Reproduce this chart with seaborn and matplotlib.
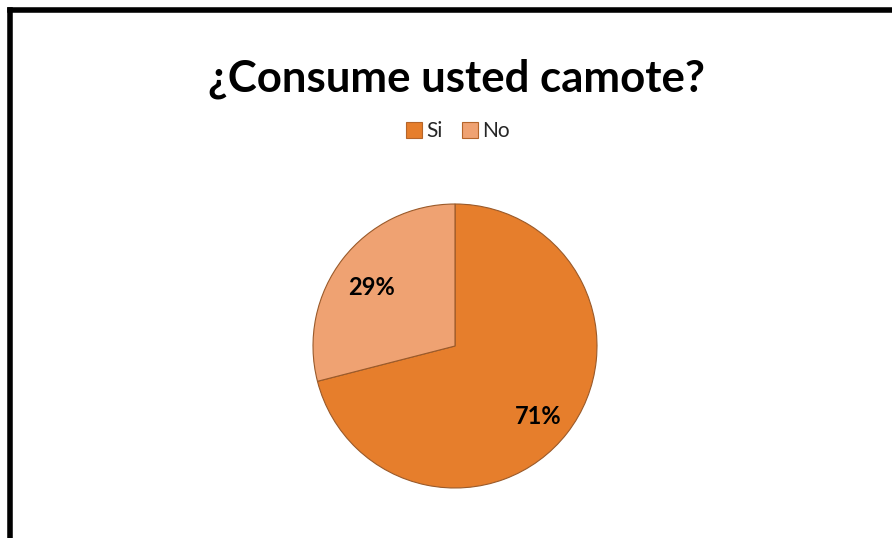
import matplotlib
matplotlib.use("Agg")
import matplotlib.pyplot as plt
import seaborn as sns
import numpy as np
from matplotlib.lines import Line2D

categories = ["Si", "No"]
values = [71, 29]
title = "¿Consume usted camote?"

sns.set_theme(style="white")
plt.rcParams['font.family'] = ['Lato', 'DejaVu Sans']

colors = ["#E67E2C", "#EFA272"]

W, H = 892, 538
fig = plt.figure(figsize=(W / 100, H / 100), dpi=100)

# pie axes: center (455, 346), radius ~142
cx, cy, r = 455, 346, 142
ax = fig.add_axes([(cx - r) / W, 1 - (cy + r) / H, 2 * r / W, 2 * r / H])
wedges, _ = ax.pie(values, colors=colors, startangle=90, counterclock=False,
                   radius=1.0, wedgeprops=dict(edgecolor="#9a5a2a", linewidth=0.8))
ax.set_xlim(-1, 1)
ax.set_ylim(-1, 1)
ax.set_aspect("auto")
ax.axis("off")

# labels
cum = 0
for v in values:
    mid = 90 - (cum + v / 2) * 3.6
    cum += v
    ax.text(0.74 * np.cos(np.radians(mid)), 0.74 * np.sin(np.radians(mid)) - 0.04, f"{v}%",
            ha="center", va="center", fontsize=17, fontweight="bold", color="black")

fig.text(456 / W, 1 - 79 / H, title, ha="center", va="center",
         fontsize=31.5, fontweight="bold", color="black")

handles = [Line2D([0], [0], marker="s", linestyle="none", markersize=11,
                  markerfacecolor=c, markeredgecolor="#b5652a", markeredgewidth=0.8)
           for c in colors]
fig.legend(handles, categories, loc="center", bbox_to_anchor=(457 / W, 1 - 131 / H),
           ncol=2, frameon=False, fontsize=15, handletextpad=0.1, columnspacing=0.8,
           handlelength=1.0)

# frame: left and top borders
fig.add_artist(Line2D([10 / W, 10 / W], [0, 1 - 10 / H], transform=fig.transFigure,
                      color="black", linewidth=4, solid_capstyle="projecting"))
fig.add_artist(Line2D([10 / W, 1], [1 - 10 / H, 1 - 10 / H], transform=fig.transFigure,
                      color="black", linewidth=4, solid_capstyle="projecting"))

fig.savefig("out.png", dpi=100)
